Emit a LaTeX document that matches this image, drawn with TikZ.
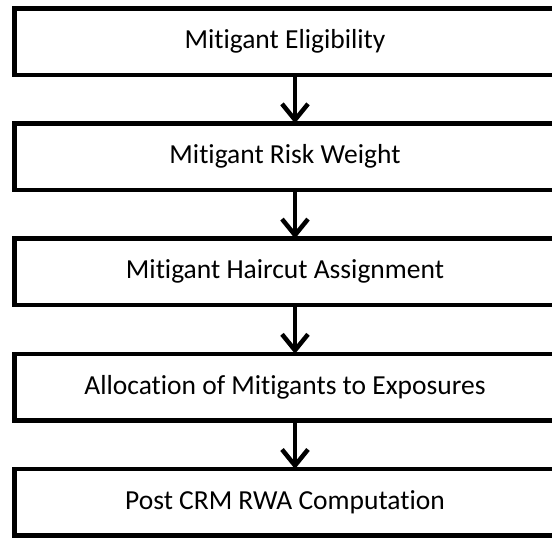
\documentclass[tikz,border=0pt]{standalone}
\usepackage{fontspec}
\setmainfont{Carlito}[Ligatures={NoCommon,NoRare}]
\usepackage{tikz}
\usetikzlibrary{arrows.meta, positioning}

\begin{document}
\begin{tikzpicture}[
    x=1pt, y=-1pt,
    node distance=48.7pt,
    stepbox/.style={draw, line width=4.5pt, outer sep=0pt, minimum width=541.5pt,
        minimum height=66.5pt, font=\fontsize{27.5}{32}\selectfont},
    flow/.style={line width=4.5pt, -{Straight Barb[length=16pt, width=26pt]}},
]
    \useasboundingbox (0,0) rectangle (552,538);
    \node[stepbox] (elig) at (285,41.5) {Mitigant Eligibility};
    \node[stepbox, below=of elig] (weight) {Mitigant Risk Weight};
    \node[stepbox, below=of weight] (haircut) {Mitigant Haircut Assignment};
    \node[stepbox, below=of haircut] (alloc) {Allocation of Mitigants to Exposures};
    \node[stepbox, below=of alloc] (rwa) {Post CRM RWA Computation};
    \foreach \a/\b in {elig/weight, weight/haircut, haircut/alloc, alloc/rwa}
        \draw[flow] ([xshift=10pt]\a.south) -- ([xshift=10pt]\b.north);
\end{tikzpicture}
\end{document}
